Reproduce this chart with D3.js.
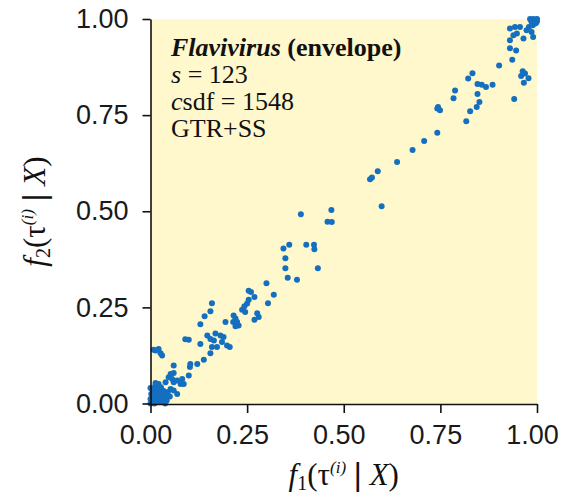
<!DOCTYPE html>
<html>
<head>
<meta charset="utf-8">
<script src="https://cdn.jsdelivr.net/npm/d3@7"></script>
<style>
body { margin: 0; background: #fff; }
</style>
</head>
<body>
<div id="graph"></div>
<script>
// split frequencies f1 vs f2

var tick_values = [0, 0.25, 0.5, 0.75, 1];

// dense blob at the origin
var origin_cluster = [
	[0.000, 0.000], [0.005, 0.003], [0.010, 0.000], [0.003, 0.010], [0.012, 0.008],
	[0.018, 0.004], [0.020, 0.015], [0.008, 0.018], [0.015, 0.022], [0.025, 0.010],
	[0.028, 0.020], [0.030, 0.005], [0.002, 0.025], [0.035, 0.015], [0.022, 0.030],
	[0.010, 0.030], [0.040, 0.025], [0.033, 0.033], [0.000, 0.012], [0.006, 0.035],
	[0.018, 0.038], [0.042, 0.008], [0.045, 0.030], [0.012, 0.045], [0.027, 0.042],
	[0.000, 0.040], [0.038, 0.000], [0.050, 0.018]
];

// f1 < 0.2
var low_band = [
	[0.008, 0.140], [0.013, 0.138], [0.021, 0.142], [0.026, 0.131], [0.030, 0.125],
	[0.060, 0.099], [0.052, 0.077], [0.060, 0.079], [0.047, 0.068], [0.056, 0.064],
	[0.060, 0.055], [0.069, 0.060], [0.078, 0.051], [0.086, 0.051], [0.082, 0.064],
	[0.039, 0.055], [0.021, 0.051], [0.013, 0.053], [0.069, 0.025], [0.052, 0.038],
	[0.060, 0.034], [0.099, 0.073], [0.103, 0.103], [0.102, 0.095], [0.121, 0.103],
	[0.138, 0.114], [0.155, 0.131], [0.159, 0.147], [0.172, 0.147], [0.090, 0.167],
	[0.099, 0.166], [0.129, 0.155], [0.147, 0.177], [0.155, 0.168], [0.168, 0.182],
	[0.164, 0.164], [0.181, 0.177], [0.189, 0.173], [0.185, 0.160], [0.198, 0.151],
	[0.129, 0.206], [0.140, 0.227], [0.155, 0.240], [0.159, 0.261]
];

// 0.19 < f1 < 0.5
var middle_band = [
	[0.205, 0.147], [0.194, 0.212], [0.215, 0.229], [0.220, 0.221], [0.224, 0.212],
	[0.214, 0.212], [0.228, 0.203], [0.220, 0.201], [0.237, 0.244], [0.243, 0.253],
	[0.245, 0.238], [0.250, 0.260], [0.254, 0.270], [0.254, 0.293], [0.260, 0.290],
	[0.269, 0.277], [0.276, 0.235], [0.280, 0.225], [0.269, 0.218], [0.300, 0.313],
	[0.319, 0.283], [0.304, 0.261], [0.344, 0.403], [0.359, 0.413], [0.403, 0.413],
	[0.423, 0.413], [0.424, 0.401], [0.349, 0.378], [0.349, 0.352], [0.433, 0.352],
	[0.355, 0.327], [0.379, 0.322], [0.389, 0.492], [0.468, 0.503], [0.458, 0.473],
	[0.469, 0.472]
];

// f1 > 0.55
var high_band = [
	[0.568, 0.583], [0.573, 0.588], [0.588, 0.604], [0.598, 0.513], [0.638, 0.628],
	[0.678, 0.659], [0.708, 0.683], [0.742, 0.704], [0.744, 0.771], [0.749, 0.763],
	[0.742, 0.767], [0.784, 0.794], [0.788, 0.814], [0.817, 0.734], [0.827, 0.760],
	[0.844, 0.771], [0.851, 0.784], [0.846, 0.805], [0.822, 0.845], [0.833, 0.859],
	[0.846, 0.831], [0.857, 0.829], [0.868, 0.823], [0.885, 0.829], [0.902, 0.879],
	[0.936, 0.894], [0.941, 0.792], [0.930, 0.924], [0.946, 0.918], [0.930, 0.945],
	[0.963, 0.864], [0.969, 0.858], [0.959, 0.852], [0.978, 0.846], [0.966, 0.834],
	[0.930, 0.975], [0.943, 0.979], [0.956, 0.979], [0.948, 0.962], [0.939, 0.958],
	[0.965, 0.949], [0.986, 0.966], [0.990, 0.953], [0.973, 0.971]
];

// blob at (1, 1)
var corner_cluster = [
	[0.982, 1.000], [0.990, 1.000], [0.997, 0.999], [0.986, 0.992], [0.995, 0.988],
	[1.000, 0.994], [0.979, 0.979], [0.989, 0.984], [0.993, 0.996], [0.998, 0.990],
	[0.985, 0.997], [1.000, 1.000]
];

var info_lines = [
	{ital: "s", rest: " = 123"},
	{ital: "c", rest: "sdf = 1548"},
	{ital: "", rest: "GTR+SS"}
];

var all_points = origin_cluster.concat(low_band, middle_band, high_band, corner_cluster);

var width = 563;
var height = 494;
var plot = {left: 150.5, right: 537, top: 19, bottom: 404};

var svg = d3.select("#graph").append("svg")
	.attr("width", width)
	.attr("height", height);

var scale_x = d3.scaleLinear()
	.domain([0, 1])
	.range([plot.left, plot.right]);
var scale_y = d3.scaleLinear()
	.domain([0, 1])
	.range([plot.bottom - 0.5, plot.top]);

// panel background
svg.append("rect")
	.attr("x", plot.left)
	.attr("y", plot.top)
	.attr("width", plot.right - plot.left)
	.attr("height", plot.bottom - plot.top)
	.attr("fill", "#fef8cc");

// points
svg.append("g").selectAll("circle")
	.data(all_points)
	.enter()
	.append("circle")
	.attr("cx", function(d) { return scale_x(d[0]); })
	.attr("cy", function(d) { return scale_y(d[1]); })
	.attr("r", 3)
	.attr("fill", "#156fc0");

// axes
var fmt = d3.format(".2f");
var x_axis = svg.append("g")
	.attr("transform", "translate(0," + plot.bottom + ")")
	.call(d3.axisBottom(scale_x).tickValues(tick_values).tickFormat(fmt)
		.tickSize(9).tickSizeOuter(0).tickPadding(12));
x_axis.selectAll("text").attr("dx", -5);

var y_axis = svg.append("g")
	.attr("transform", "translate(" + plot.left + ",0)")
	.call(d3.axisLeft(scale_y).tickValues(tick_values).tickFormat(fmt)
		.tickSize(8).tickSizeOuter(0).tickPadding(14));

svg.selectAll(".domain, .tick line")
	.attr("stroke", "#111")
	.attr("stroke-width", 1.6);
svg.selectAll(".tick text")
	.attr("fill", "#1a1a1a")
	.style("font-family", "'Liberation Sans', Arial, sans-serif")
	.style("font-size", "27px");

// annotation block
var note = svg.append("g")
	.style("font-family", "'Liberation Serif', 'Times New Roman', serif")
	.style("font-size", "26px")
	.attr("fill", "#111");

var head = note.append("text")
	.attr("x", 171)
	.attr("y", 56);
head.append("tspan").attr("font-weight", "bold").attr("font-style", "italic").text("Flavivirus");
head.append("tspan").attr("font-weight", "bold").text(" (envelope)");

note.selectAll("text.info")
	.data(info_lines)
	.enter()
	.append("text")
	.attr("class", "info")
	.attr("x", 171)
	.attr("y", function(d, i) { return 83 + i * 27; })
	.each(function(d) {
		var t = d3.select(this);
		if (d.ital) t.append("tspan").attr("font-style", "italic").text(d.ital);
		t.append("tspan").text(d.rest);
	});

// axis titles
function axis_title(sel, sub) {
	sel.style("font-family", "'Liberation Serif', 'Times New Roman', serif")
		.style("font-size", "31px")
		.attr("fill", "#111")
		.attr("text-anchor", "middle");
	sel.append("tspan").attr("font-style", "italic").text("f");
	sel.append("tspan").attr("font-size", "20px").attr("dy", 5).text(sub);
	sel.append("tspan").attr("dy", -5).text("(\u03c4");
	sel.append("tspan").attr("font-size", "17px").attr("font-style", "italic").attr("dy", -12).text("(i)");
	sel.append("tspan").attr("dy", 12).text(" ");
	sel.append("tspan").style("font-family", "'Liberation Sans', Arial, sans-serif").text("|");
	sel.append("tspan").text(" ");
	sel.append("tspan").attr("font-style", "italic").text("X");
	sel.append("tspan").text(")");
}

svg.append("text")
	.attr("x", (plot.left + plot.right) / 2)
	.attr("y", 485)
	.call(axis_title, "1");

svg.append("text")
	.attr("transform", "translate(45," + ((plot.top + plot.bottom) / 2) + ") rotate(-90)")
	.call(axis_title, "2");
</script>
</body>
</html>
